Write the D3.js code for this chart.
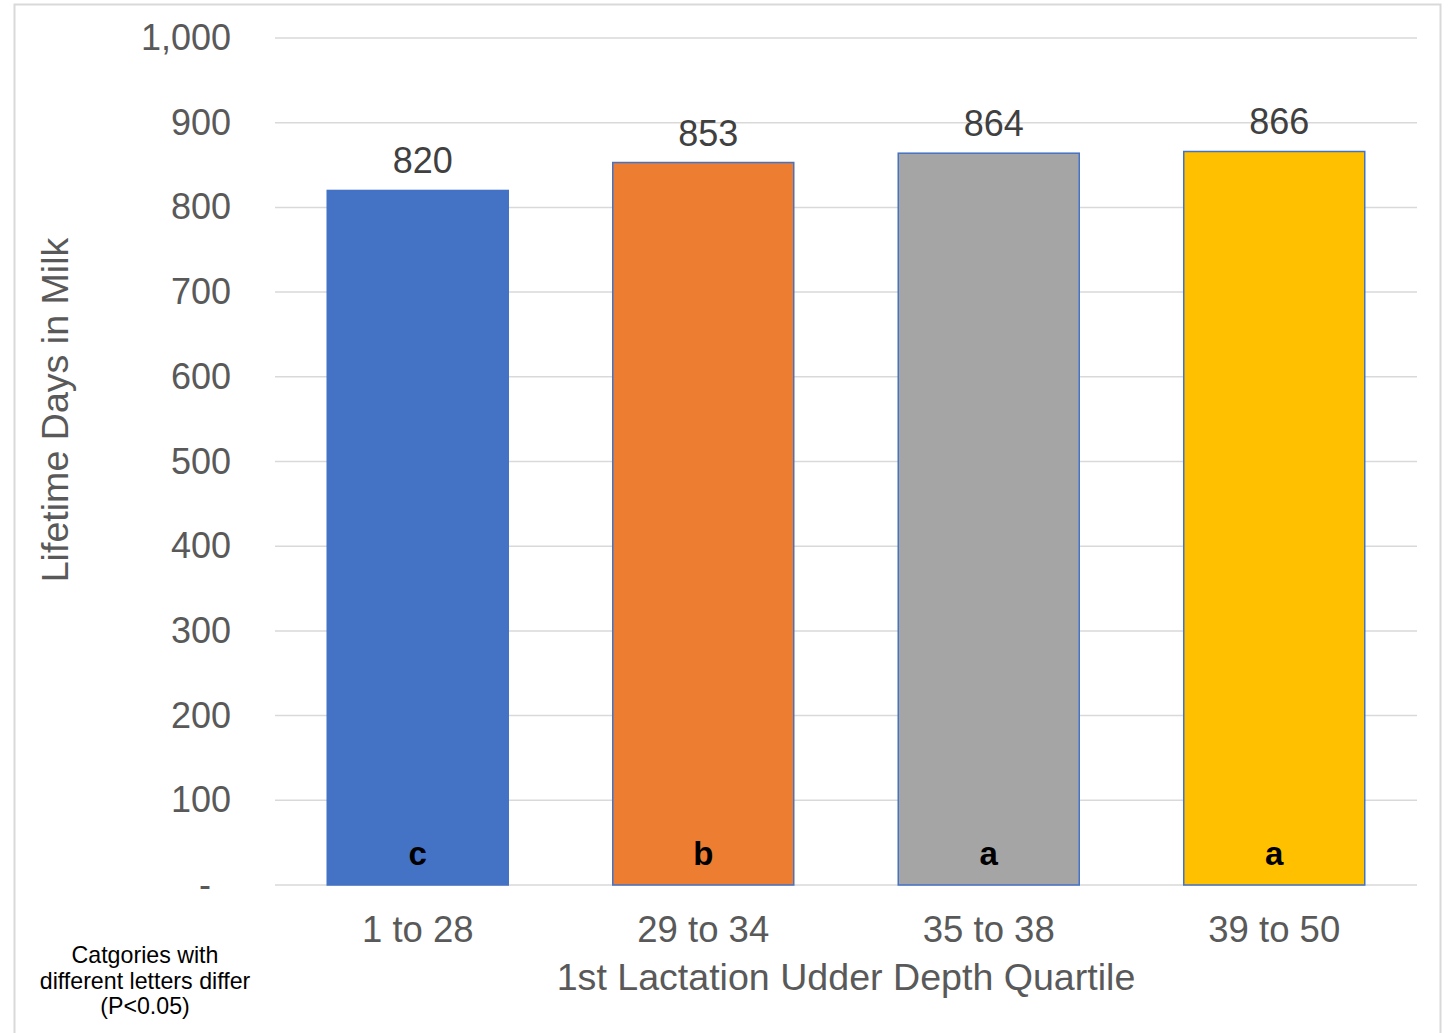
<!DOCTYPE html>
<html>
<head>
<meta charset="utf-8">
<script src="https://cdn.jsdelivr.net/npm/d3@7"></script>
<style>
  html, body { margin: 0; padding: 0; background: #fff; }
  svg { display: block; }
  text { font-family: "Liberation Sans", Arial, sans-serif; }
</style>
</head>
<body>
<svg id="chart" width="1448" height="1033"></svg>
<script>
const categories = ["1 to 28", "29 to 34", "35 to 38", "39 to 50"];
const values = [820, 853, 864, 866];
const letters = ["c", "b", "a", "a"];
const colors = ["#4472C4", "#ED7D31", "#A5A5A5", "#FFC000"];
const yTicks = [0, 100, 200, 300, 400, 500, 600, 700, 800, 900, 1000];
const yTitle = "Lifetime Days in Milk";
const xTitle = "1st Lactation Udder Depth Quartile";
const footnote = ["Catgories with", "different letters differ", "(P<0.05)"];

const svg = d3.select("#chart");

// outer frame
svg.append("rect")
  .attr("x", 14.5).attr("y", 4.5)
  .attr("width", 1426).attr("height", 1060)
  .attr("fill", "#fff").attr("stroke", "#d9d9d9").attr("stroke-width", 2);

const pLeft = 275, pRight = 1417, pTop = 38, pBottom = 885;

const x = d3.scaleBand().domain(categories).range([pLeft, pRight]).paddingInner(0.366).paddingOuter(0.183);
const y = d3.scaleLinear().domain([0, 1000]).range([pBottom, pTop]);

// gridlines
svg.append("g")
  .selectAll("line")
  .data(yTicks)
  .join("line")
  .attr("x1", pLeft).attr("x2", pRight)
  .attr("y1", d => y(d)).attr("y2", d => y(d))
  .attr("stroke", "#d9d9d9").attr("stroke-width", 1.5);

// y axis labels
const yAxis = d3.axisLeft(y).tickValues(yTicks).tickSize(0).tickPadding(0)
  .tickFormat(d => d === 0 ? "-" : d3.format(",")(d));
const gy = svg.append("g").attr("transform", `translate(231,0)`).call(yAxis);
gy.select(".domain").remove();
gy.selectAll("text")
  .attr("font-size", 36)
  .attr("fill", "#595959")
  .style("font-family", "'Liberation Sans', Arial, sans-serif")
  .attr("dx", d => d === 0 ? -20 : 0);

// bars
svg.append("g")
  .selectAll("rect")
  .data(values)
  .join("rect")
  .attr("x", (d, i) => x(categories[i]))
  .attr("width", x.bandwidth())
  .attr("y", d => y(d))
  .attr("height", d => y(0) - y(d))
  .attr("fill", (d, i) => colors[i])
  .attr("stroke", "#4472C4").attr("stroke-width", 1.5);

// value labels
svg.append("g")
  .selectAll("text")
  .data(values)
  .join("text")
  .attr("x", (d, i) => x(categories[i]) + x.bandwidth() / 2 + 5)
  .attr("y", d => y(d) - 17)
  .attr("text-anchor", "middle")
  .attr("font-size", 36)
  .attr("fill", "#404040")
  .text(d => d);

// letters
svg.append("g")
  .selectAll("text")
  .data(letters)
  .join("text")
  .attr("x", (d, i) => x(categories[i]) + x.bandwidth() / 2)
  .attr("y", 865)
  .attr("text-anchor", "middle")
  .attr("font-size", 33)
  .attr("font-weight", "bold")
  .attr("fill", "#000")
  .text(d => d);

// x axis labels
const xAxis = d3.axisBottom(x).tickSize(0).tickPadding(0);
const gx = svg.append("g").attr("transform", `translate(0,${pBottom})`).call(xAxis);
gx.select(".domain").remove();
gx.selectAll("text")
  .attr("font-size", 36.5)
  .attr("fill", "#595959")
  .attr("dy", 0)
  .attr("y", 57)
  .style("font-family", "'Liberation Sans', Arial, sans-serif");

// axis titles
svg.append("text")
  .attr("transform", "translate(68,410) rotate(-90)")
  .attr("text-anchor", "middle")
  .attr("font-size", 37.6)
  .attr("fill", "#595959")
  .text(yTitle);

svg.append("text")
  .attr("x", 846).attr("y", 990)
  .attr("text-anchor", "middle")
  .attr("font-size", 37.6)
  .attr("fill", "#595959")
  .text(xTitle);

// footnote
svg.append("g")
  .selectAll("text")
  .data(footnote)
  .join("text")
  .attr("x", 145)
  .attr("y", (d, i) => 963 + i * 25.5)
  .attr("text-anchor", "middle")
  .attr("font-size", 23.2)
  .attr("fill", "#000")
  .text(d => d);
</script>
</body>
</html>
